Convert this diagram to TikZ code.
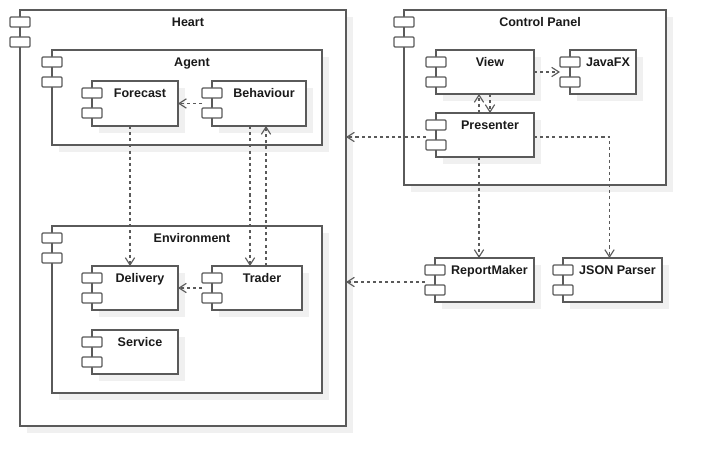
\documentclass[tikz,border=0pt]{standalone}
\usepackage{fontspec}
\setmainfont{Liberation Sans}
\usetikzlibrary{arrows.meta,fit,calc}
\definecolor{linec}{HTML}{5A5A5A}
\definecolor{shadowc}{HTML}{F0F0F0}
\definecolor{textc}{HTML}{1A1A1A}
\tikzset{
  box/.style={draw=linec, fill=white, line width=0.9pt, inner sep=0pt, outer sep=0pt},
  iconbox/.style={draw=linec, fill=white, line width=0.9pt, rounded corners=0.8pt},
  lbl/.style={text=textc, font=\fontsize{9.4}{11}\selectfont\bfseries, inner sep=0pt},
  dep/.style={draw=linec, line width=0.85pt, dash pattern=on 2.3pt off 2.3pt,
    -{Straight Barb[length=5.5pt,width=7pt,line width=0.85pt]}},
}
\newcommand\comp[6]{%
  \fill[shadowc] (#2+7,#3+7) rectangle (#4+7,#5+7);
  \node[box, fit={(#2,#3)(#4,#5)}] (#1) {};
  \draw[iconbox] (#2-10,#3+7) rectangle ++(20,10);
  \draw[iconbox] (#2-10,#3+27) rectangle ++(20,10);
  \node[lbl, anchor=base] (#1-label) at ({(#2+#4)/2+5},#3+16.5) {#6};
}
\begin{document}
\begin{tikzpicture}[x=0.75pt,y=-0.75pt]
\useasboundingbox (0,0) rectangle (706,466);
\comp{heart}{20}{10}{346}{426}{Heart}
\comp{agent}{52}{50}{322}{145}{Agent}
\comp{fore}{92}{81}{178}{126}{Forecast}
\comp{beh}{212}{81}{306}{126}{Behaviour}
\comp{env}{52}{226}{322}{393}{Environment}
\comp{deliv}{92}{266}{178}{310}{Delivery}
\comp{trader}{212}{266}{302}{310}{Trader}
\comp{service}{92}{330}{178}{374}{Service}
\comp{cp}{404}{10}{666}{185}{Control Panel}
\comp{view}{436}{50}{534}{94}{View}
\comp{javafx}{570}{50}{636}{94}{JavaFX}
\comp{pres}{436}{113}{534}{157}{Presenter}
\comp{rm}{435}{258}{534}{302}{ReportMaker}
\comp{json}{563}{258}{662}{302}{JSON Parser}
% connectors
\draw[dep] ($(beh.west)+(-10,0)$) -- (fore.east);
\coordinate (f1) at ($(fore.south)+(-5,0)$);
\draw[dep] (f1) -- (f1 |- deliv.north);
\coordinate (b1) at ($(beh.south)+(-9,0)$);
\draw[dep] (b1) -- (b1 |- trader.north);
\coordinate (t1) at ($(trader.north)+(9,0)$);
\draw[dep] (t1) -- (t1 |- beh.south);
\draw[dep] ($(trader.west)+(-10,0)$) -- (deliv.east);
\draw[dep] (view.east) -- ($(javafx.west)+(-10,0)$);
\coordinate (p1) at ($(pres.north)+(-6,0)$);
\draw[dep] (p1) -- (p1 |- view.south);
\coordinate (v1) at ($(view.south)+(5,0)$);
\draw[dep] (v1) -- (v1 |- pres.north);
\coordinate (p2) at ($(pres.west)+(-10,2)$);
\draw[dep] (p2) -- (p2 -| heart.east);
\coordinate (p3) at ($(pres.south)+(-6,0)$);
\draw[dep] (p3) -- (p3 |- rm.north);
\coordinate (p4) at ($(pres.east)+(0,2)$);
\coordinate (j1) at ($(json.north)+(-3,0)$);
\draw[dep] (p4) -| (j1);
\coordinate (r1) at ($(rm.west)+(-10,2)$);
\draw[dep] (r1) -- (r1 -| heart.east);
\end{tikzpicture}
\end{document}
